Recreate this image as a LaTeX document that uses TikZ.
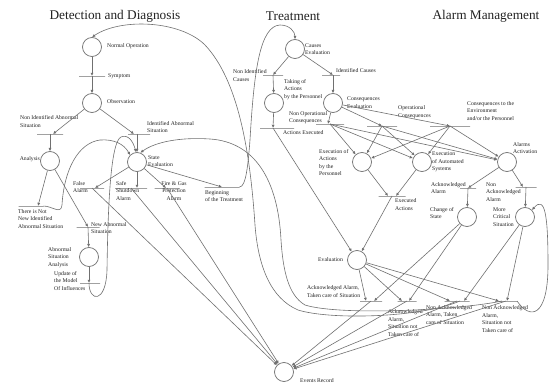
\documentclass[tikz,border=0pt]{standalone}
\usepackage{fontspec}
\setmainfont{Liberation Serif}
\usetikzlibrary{arrows.meta}
\definecolor{lc}{HTML}{707070}
\definecolor{tc}{HTML}{222222}
\begin{document}
\begin{tikzpicture}[x=1pt,y=-1pt,
  place/.style={circle,draw=lc,line width=0.7pt,minimum size=19pt,inner sep=0pt,fill=white},
  trans/.style={rectangle,draw=lc,line width=0.7pt,minimum width=#1,minimum height=0pt,inner sep=0pt,outer sep=0pt},
  arc/.style={draw=lc,line width=0.6pt,-{Latex[length=3.2pt,width=3pt]}},
  lbl/.style={font=\fontsize{5.7}{7.6}\selectfont,inner sep=0pt,align=left,text=tc},
  ttl/.style={font=\fontsize{13.3}{15}\selectfont,text=tc,inner sep=0pt}]
\fill[white] (0,0) rectangle (549,385);
\useasboundingbox (0,0) rectangle (549,385);
% titles
\node[ttl] (tit1) at (115,16) {Detection and Diagnosis};
\node[ttl] (tit2) at (293,16) {Treatment};
\node[ttl] (tit3) at (486,16) {Alarm Management};
% places
\node[place] (NO) at (92,47) {};
\node[place] (OBS) at (92,103) {};
\node[place] (AN) at (50,161) {};
\node[place] (SE) at (137,162) {};
\node[place] (ASA) at (89,257) {};
\node[place] (CE) at (295,49) {};
\node[place] (TA) at (274,103) {};
\node[place] (CONS) at (333,103) {};
\node[place] (EAP) at (362,162) {};
\node[place] (EAS) at (422,162) {};
\node[place] (AA) at (507,162) {};
\node[place] (CS) at (467,217) {};
\node[place] (MC) at (525,217) {};
\node[place] (EV) at (357,260) {};
\node[place] (ER) at (284,372) {};
% transitions
\node[trans=26pt] (tSym) at (92,76) {};
\node[trans=26pt] (tNIA) at (50,134) {};
\node[trans=22pt] (tIA) at (139,134) {};
\node[trans=25pt] (tTIN) at (31,206) {};
\node[trans=23pt] (tNEW) at (88,227) {};
\node[trans=20pt] (tUPD) at (90,283) {};
\node[trans=24pt] (tFA) at (92,188) {};
\node[trans=32pt] (tSS) at (131,188) {};
\node[trans=25pt] (tFG) at (167,188) {};
\node[trans=35pt] (tBT) at (222,187) {};
\node[trans=20pt] (tNIC) at (273,75) {};
\node[trans=18pt] (tIC) at (331,75) {};
\node[trans=34pt] (tAE) at (277,128) {};
\node[trans=28pt] (tNOC) at (330,124) {};
\node[trans=30pt] (tOC) at (382,126) {};
\node[trans=40pt] (tCEP) at (450,126) {};
\node[trans=27pt] (tEXA) at (392,196) {};
\node[trans=16pt] (tACK) at (468,188) {};
\node[trans=21pt] (tNACK) at (526,187) {};
\node[trans=22pt] (tB1) at (371,301) {};
\node[trans=19pt] (tB2) at (407,301) {};
\node[trans=25pt] (tB3) at (457,301) {};
\node[trans=22pt] (tB4) at (506,301) {};
% labels
\node[lbl,anchor=west] (lNO) at (107,46) {Normal Operation};
\node[lbl,anchor=west] (lSym) at (108,76) {Symptom};
\node[lbl,anchor=west] (lOBS) at (107,102) {Observation};
\node[lbl,anchor=west] (lNIA) at (20,121.5) {Non Identified Abnormal\\Situation};
\node[lbl,anchor=west] (lIA) at (147,127) {Identified Abnormal\\Situation};
\node[lbl,anchor=east] (lAN) at (40,159) {Analysis};
\node[lbl,anchor=west] (lSE) at (148,161) {State\\Evaluation};
\node[lbl,anchor=west] (lFA) at (73,187) {False\\Alarm};
\node[lbl,anchor=west] (lSS) at (116,191) {Safe\\Shutdown\\Alarm};
\node[lbl,align=center] (lFG) at (174,191) {Fire \& Gas\\Protection\\Alarm};
\node[lbl,anchor=west] (lBT) at (205,196) {Beginning\\of the Treatment};
\node[lbl,anchor=west] (lTIN) at (18,219) {There is Not\\New Identified\\Abnormal Situation};
\node[lbl,anchor=west] (lNEW) at (91,228) {New Abnormal\\Situation};
\node[lbl,anchor=west] (lASA) at (48,257.5) {Abnormal\\Situation\\Analysis};
\node[lbl,anchor=west] (lUPD) at (54,281) {Update of\\the Model\\Of Influences};
\node[lbl,anchor=west] (lCE) at (305,49) {Causes\\Evaluation};
\node[lbl,anchor=west] (lNIC) at (233,75.5) {Non Identified\\Causes};
\node[lbl,anchor=west] (lIC) at (336,71) {Identified Causes};
\node[lbl,anchor=west] (lTA) at (284,89.5) {Taking of\\Actions\\by the Personnel};
\node[lbl,anchor=west] (lCONS) at (347,102.5) {Consequences\\Evaluation};
\node[lbl,anchor=west] (lNOC) at (289,117.5) {Non Operational\\Consequences};
\node[lbl,anchor=west] (lAE) at (283,133) {Actions Executed};
\node[lbl,anchor=west] (lOC) at (398,112) {Operational\\Consequences};
\node[lbl,anchor=west] (lCEP) at (467,111) {Consequences to the\\Environment\\and/or the Personnel};
\node[lbl,anchor=west] (lEAP) at (319,162.5) {Execution of\\Actions\\by the\\Personnel};
\node[lbl,anchor=west] (lEAS) at (432,162) {Execution\\of Automated\\Systems};
\node[lbl,anchor=west] (lAA) at (513,148) {Alarms\\Activation};
\node[lbl,anchor=west] (lEXA) at (395,204.5) {Executed\\Actions};
\node[lbl,anchor=west] (lACK) at (431,188) {Acknowledged\\Alarm};
\node[lbl,anchor=west] (lNACK) at (486,192) {Non\\Acknowledged\\Alarm};
\node[lbl,anchor=west] (lCS) at (430,213) {Change of\\State};
\node[lbl,anchor=west] (lMC) at (493,217) {More\\Critical\\Situation};
\node[lbl,anchor=west] (lEV) at (318,260) {Evaluation};
\node[lbl,anchor=west] (lB1) at (307,291.5) {Acknowledged Alarm,\\Taken care of Situation};
\node[lbl,anchor=west] (lB2) at (388,323) {Acknowledged\\Alarm,\\Situation not\\Taken care of};
\node[lbl,anchor=west] (lB3) at (426,315) {Non Acknowledged\\Alarm, Taken\\care of Situation};
\node[lbl,anchor=west] (lB4) at (482,319) {Non Acknowledged\\Alarm,\\Situation not\\Taken care of};
\node[lbl,anchor=west] (lER) at (300,381) {Events Record};
% arcs - detection and diagnosis
\draw[arc] (NO) -- (tSym);
\draw[arc] (tSym) -- (OBS);
\draw[arc] (OBS) -- ([xshift=3pt]tNIA.center);
\draw[arc] (tNIA) -- (AN);
\draw[arc] (OBS) -- ([xshift=-5pt]tIA.center);
\draw[arc] ([xshift=-2pt]tIA.center) -- (SE);
\draw[arc] (AN) -- ([xshift=7pt]tTIN.center);
\draw[arc] (AN) -- (tNEW);
\draw[arc] (tNEW) -- (ASA);
\draw[arc] (ASA) -- ([xshift=-1pt]tUPD.center);
\draw[arc] ([xshift=-1pt]tUPD.center) .. controls (89,302) and (106,304) .. (107,270)
  .. controls (108,200) and (111,142) .. (121,137) .. controls (128,134) and (133,141) .. ([xshift=-1pt]SE.north);
\draw[arc] (tTIN.east) .. controls (52,206) and (61,215) .. (62,205)
  .. controls (64,170) and (78,143) .. (100,140) .. controls (114,139) and (124,144) .. (SE.north west);
\draw[arc] (SE) -- ([xshift=3pt]tFA.center);
\draw[arc] (SE) -- ([xshift=6pt]tSS.center);
\draw[arc] (SE) -- ([xshift=-1pt]tFG.center);
\draw[arc] (SE) -- (tBT);
% treatment
\draw[arc] (tBT.east) .. controls (246,187) and (248,165) .. (250,140)
  .. controls (254,70) and (260,26) .. (280,25) .. controls (290,25) and (295,32) .. (CE.north);
\draw[arc] (CE) -- (tNIC);
\draw[arc] (CE) -- ([xshift=2pt]tIC.center);
\draw[arc] (tNIC) -- (TA);
\draw[arc] ([xshift=2pt]tIC.center) -- (CONS);
\draw[arc] (TA) -- ([xshift=-4pt]tAE.center);
\draw[arc] ([xshift=-4pt]tAE.center) -- (EV);
\draw[arc] (CONS) -- ([xshift=-2pt]tNOC.center);
\draw[arc] (CONS) -- (tOC);
\draw[arc] (CONS) -- (tCEP);
\foreach \t in {tNOC,tOC,tCEP}{\foreach \p in {EAP,EAS,AA}{\draw[arc] (\t) -- (\p);}}
\draw[arc] (EAP) -- ([xshift=-4pt]tEXA.center);
\draw[arc] (EAS) -- ([xshift=4pt]tEXA.center);
\draw[arc] (tEXA) -- (EV);
% alarm management
\draw[arc] (AA) -- (tACK);
\draw[arc] (AA) -- ([xshift=-3pt]tNACK.center);
\draw[arc] (tACK) -- (CS);
\draw[arc] (tNACK) -- (MC);
\draw[arc] (EV) -- ([xshift=-5pt]tB1.center);
\draw[arc] (EV) -- ([xshift=-5pt]tB2.center);
\draw[arc] (EV) -- ([xshift=-7pt]tB3.center);
\draw[arc] (EV) -- ([xshift=-7pt]tB4.center);
\draw[arc] (CS) -- ([xshift=3pt]tB1.center);
\draw[arc] (CS) -- ([xshift=2pt]tB2.center);
\draw[arc] (MC) -- ([xshift=7pt]tB3.center);
\draw[arc] (MC) -- ([xshift=1pt]tB4.center);
\draw[arc] (tB4.east) .. controls (530,320) and (548,318) .. (548,265)
  .. controls (548,215) and (545,195) .. (MC.north east);
% events record
\foreach \t in {tFA,tSS,tFG,tB1,tB2,tB3,tB4}{\draw[arc] (\t) -- (ER);}
% return arcs
\draw[arc] ([xshift=3pt]tB3.center) .. controls (420,318) and (330,320) .. (298,310)
  .. controls (270,298) and (258,265) .. (255,225) .. controls (250,150) and (238,80) .. (205,45)
  .. controls (180,20) and (120,18) .. (NO.north);
\draw[arc] ([xshift=-4pt]tB4.center) .. controls (460,310) and (340,316) .. (305,305)
  .. controls (288,295) and (283,270) .. (281,240) .. controls (278,180) and (255,142) .. (210,139)
  .. controls (180,137) and (155,142) .. (SE.70);
\end{tikzpicture}
\end{document}
